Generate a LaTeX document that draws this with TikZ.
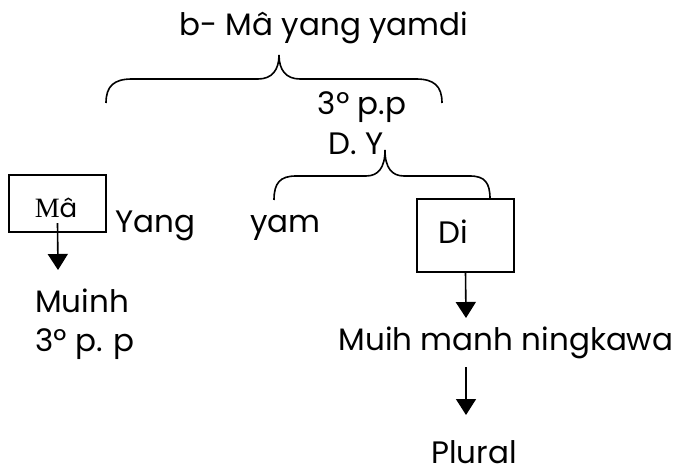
\documentclass[tikz,border=0pt]{standalone}
\usepackage{fontspec}
\usepackage{graphicx}
\setmainfont{Poppins}
\newfontfamily\serifmafont{Liberation Serif}
\usetikzlibrary{arrows.meta}
\tikzset{
  lbl/.style={inner sep=0pt, font=\fontsize{31}{35}\selectfont},
  boxed/.style={draw, line width=1.6pt, inner sep=0pt},
  brace/.style={line width=1.6pt},
  arr/.style={line width=1.6pt, -{Triangle[width=20pt,length=16pt]}}
}
\begin{document}
\begin{tikzpicture}[x=1pt,y=-1pt]
\useasboundingbox (0,0) rectangle (676,470);
% title and brace labels
\node[lbl, anchor=base] (title) at (324,36) {b- Mâ yang yamdi};
\node[lbl, anchor=base] (pp) at (362,115) {3º p.p};
\node[lbl, anchor=base] (dy) at (356,155) {D. Y};
% big brace
\coordinate (b1l) at (106,103);
\coordinate (b1c) at (279,55);
\coordinate (b1r) at (442,103);
\draw[brace] (b1l) .. controls (106,86) and (114,79) .. (132,79) -- (258,79)
  .. controls (272,79) and (279,70) .. (b1c)
  .. controls (279,70) and (286,79) .. (300,79) -- (416,79)
  .. controls (434,79) and (442,86) .. (b1r);
% boxes
\draw[boxed] (9,175) rectangle (106,232);
\node[inner sep=0pt, minimum width=97pt, minimum height=57pt] (mabox) at (57.5,203.5) {};
\node[inner sep=0pt, anchor=base] (ma) at (56,217) {\scalebox{2.8}{\serifmafont\fontsize{10}{12}\selectfont M}{\fontsize{26}{30}\selectfont â}};
\draw[boxed] (417,199) rectangle (514,272);
\node[inner sep=0pt, minimum width=97pt, minimum height=73pt] (dibox) at (465.5,235.5) {};
\node[lbl, anchor=base] (di) at (453,243) {Di};
% words
\node[lbl, anchor=base west] (yang) at (115,232) {Yang};
\node[lbl, anchor=base west] (yam) at (250,232) {yam};
% small brace
\coordinate (b2l) at (274,200);
\coordinate (b2c) at (385,150);
\coordinate (b2r) at (490,199);
\draw[brace] (b2l) .. controls (274,183) and (280,176) .. (296,176) -- (366,176)
  .. controls (378,176) and (385,168) .. (b2c)
  .. controls (385,168) and (392,176) .. (404,176) -- (470,176)
  .. controls (485,176) and (490,183) .. (b2r);
% left branch
\node[lbl, anchor=base west] (muinh) at (35,312) {Muinh};
\node[lbl, anchor=base west] (pp2) at (35,351) {3º p. p};
\coordinate (tip1) at (58,270);
\draw[arr] ([yshift=9pt]mabox.south) -- (tip1);
% right branch
\node[lbl, anchor=base] (muih) at (506,350) {Muih manh ningkawa};
\node[lbl, anchor=base, text depth=0pt] (plural) at (474,463) {Plural};
\coordinate (tip2) at (466,318);
\coordinate (start3) at (466,367);
\coordinate (tip3) at (466,415);
\draw[arr] (dibox.south) -- (tip2);
\draw[arr] (start3) -- (tip3);
\end{tikzpicture}
\end{document}
